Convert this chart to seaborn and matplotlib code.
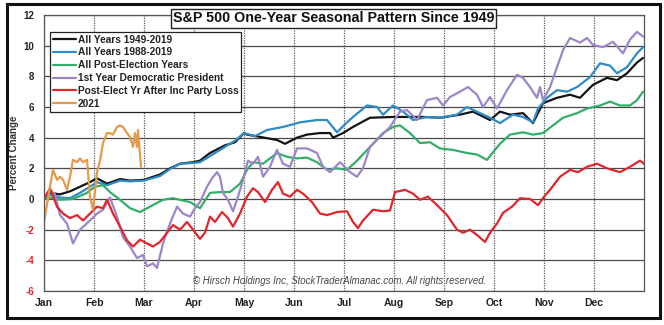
import numpy as np
import pandas as pd
import matplotlib
matplotlib.use("Agg")
import matplotlib.pyplot as plt
import seaborn as sns
from matplotlib.patches import Rectangle

# ---------------- data (x = months since Jan 1, y = percent change) ----------------
month_labels = ["Jan", "Feb", "Mar", "Apr", "May", "Jun",
                "Jul", "Aug", "Sep", "Oct", "Nov", "Dec"]
y_tick_values = [-6, -4, -2, 0, 2, 4, 6, 8, 10, 12]

series_names = ["All Years 1949-2019", "All Years 1988-2019", "All Post-Election Years",
                "1st Year Democratic President", "Post-Elect Yr After Inc Party Loss", "2021"]
series_colors = ["#141414", "#2f8bc6", "#33ad68", "#9c86c8", "#e2252b", "#e39a4c"]

all_1949_x = [0, 0.12, 0.32, 0.52, 0.72, 0.92, 1.06, 1.26, 1.52, 1.72,
              2.0, 2.32, 2.52, 2.72, 2.98, 3.12, 3.32, 3.62, 3.82, 4.0,
              4.06, 4.32, 4.66, 4.82, 5.06, 5.26, 5.52, 5.72, 5.78, 5.98,
              6.18, 6.52, 6.98, 7.26, 7.58, 7.92, 8.32, 8.58, 8.92, 9.12,
              9.32, 9.58, 9.78, 9.98, 10.26, 10.52, 10.72, 10.98, 11.26, 11.46,
              11.66, 11.86, 11.98]
all_1949_y = [0, 0.4, 0.3, 0.5, 0.8, 1.1, 1.35, 1.0, 1.3, 1.2,
              1.25, 1.6, 2.0, 2.3, 2.4, 2.5, 3.0, 3.5, 3.7, 4.3,
              4.2, 4.05, 3.85, 3.6, 4.0, 4.2, 4.3, 4.3, 4.0, 4.3,
              4.7, 5.3, 5.35, 5.35, 5.35, 5.3, 5.5, 5.7, 5.15, 5.7,
              5.5, 5.6, 4.95, 6.25, 6.6, 6.8, 6.6, 7.45, 7.9, 7.75,
              8.2, 8.9, 9.2]

all_1988_x = [0, 0.12, 0.32, 0.52, 0.72, 0.92, 1.06, 1.26, 1.52, 1.72,
              2.0, 2.32, 2.52, 2.72, 2.98, 3.12, 3.32, 3.62, 3.82, 4.0,
              4.22, 4.46, 4.78, 5.12, 5.46, 5.66, 5.86, 6.06, 6.18, 6.46,
              6.66, 6.78, 6.98, 7.18, 7.38, 7.66, 7.92, 8.26, 8.46, 8.72,
              8.92, 9.12, 9.38, 9.58, 9.78, 9.88, 10.06, 10.26, 10.46, 10.66,
              10.92, 11.12, 11.32, 11.46, 11.66, 11.86, 11.98]
all_1988_y = [0, 0.3, 0.1, 0.05, 0.4, 0.8, 1.1, 0.9, 1.2, 1.15,
              1.2, 1.5, 1.95, 2.3, 2.35, 2.4, 2.8, 3.4, 3.8, 4.3,
              4.1, 4.5, 4.7, 5.0, 5.15, 5.15, 4.35, 5.0, 5.35, 6.1,
              6.0, 5.5, 6.1, 5.7, 5.15, 5.35, 5.3, 5.5, 6.0, 5.6,
              5.3, 4.95, 5.5, 5.35, 5.0, 5.9, 6.6, 7.1, 7.0, 7.3,
              7.95, 8.85, 8.7, 8.2, 8.6, 9.5, 9.9]

post_elec_x = [0, 0.12, 0.32, 0.58, 0.86, 1.02, 1.18, 1.32, 1.52, 1.72,
               1.92, 2.12, 2.38, 2.58, 2.78, 2.92, 3.12, 3.32, 3.52, 3.72,
               3.92, 4.06, 4.18, 4.38, 4.66, 4.86, 5.06, 5.26, 5.46, 5.66,
               5.86, 6.06, 6.26, 6.58, 6.78, 6.98, 7.12, 7.32, 7.52, 7.72,
               7.92, 8.18, 8.46, 8.66, 8.86, 8.98, 9.12, 9.32, 9.58, 9.78,
               9.98, 10.18, 10.38, 10.66, 10.86, 11.12, 11.32, 11.52, 11.72, 11.86,
               11.98]
post_elec_y = [0, 0.1, -0.05, 0, 0.4, 0.8, 0.9, 0.45, -0.05, -0.6,
               -0.85, -0.5, -0.05, 0.05, -0.1, -0.2, -0.6, 0.4, 0.45, 0.45,
               1.0, 1.9, 2.4, 2.3, 3.0, 2.75, 2.65, 2.7, 2.4, 1.9,
               2.0, 1.9, 2.5, 3.6, 4.3, 4.7, 4.8, 4.3, 3.65, 3.7,
               3.3, 3.2, 3.0, 2.9, 2.55, 3.05, 3.6, 4.2, 4.35, 4.2,
               4.3, 4.8, 5.3, 5.6, 5.9, 6.1, 6.35, 6.1, 6.1, 6.45,
               7.0]

dem_first_x = [0, 0.12, 0.22, 0.32, 0.46, 0.58, 0.72, 0.92, 1.06, 1.18,
               1.32, 1.46, 1.58, 1.72, 1.86, 1.98, 2.06, 2.18, 2.26, 2.38,
               2.52, 2.66, 2.78, 2.92, 3.02, 3.12, 3.26, 3.36, 3.46, 3.52,
               3.58, 3.68, 3.78, 3.88, 3.98, 4.08, 4.18, 4.28, 4.38, 4.52,
               4.66, 4.78, 4.92, 5.06, 5.26, 5.46, 5.58, 5.72, 5.92, 6.12,
               6.26, 6.38, 6.52, 6.72, 6.92, 7.12, 7.26, 7.46, 7.66, 7.86,
               7.98, 8.12, 8.32, 8.48, 8.66, 8.78, 8.92, 9.06, 9.26, 9.46,
               9.58, 9.72, 9.86, 9.92, 9.98, 10.12, 10.26, 10.38, 10.52, 10.72,
               10.86, 10.98, 11.18, 11.38, 11.58, 11.72, 11.86, 11.98]
dem_first_y = [0, 0.6, 0.3, -1.05, -1.6, -2.9, -2.0, -1.4, -0.95, -0.7,
               0.1, -1.15, -2.5, -3.1, -3.85, -3.65, -4.4, -4.2, -4.5, -2.9,
               -1.6, -0.5, -0.95, -1.15, -0.6, -0.2, 0.8, 1.35, 1.75, 1.45,
               0.4, -0.05, -0.8, 0.15, 1.25, 2.5, 2.3, 2.75, 1.45, 2.1,
               3.2, 2.3, 2.1, 3.3, 3.3, 3.0, 2.1, 1.75, 2.4, 1.75,
               1.45, 2.0, 3.4, 4.05, 4.7, 5.7, 5.8, 5.15, 6.45, 6.6,
               6.1, 6.65, 7.0, 7.3, 6.8, 6.0, 6.65, 5.9, 7.1, 8.1,
               7.9, 7.3, 6.6, 7.3, 6.45, 7.3, 8.6, 9.7, 10.5, 10.2,
               10.5, 10.05, 9.9, 10.25, 9.5, 10.4, 10.9, 10.6]

party_loss_x = [0, 0.12, 0.26, 0.38, 0.52, 0.66, 0.78, 0.92, 1.06, 1.18,
                1.26, 1.38, 1.52, 1.66, 1.78, 1.92, 2.06, 2.18, 2.32, 2.46,
                2.58, 2.72, 2.86, 2.98, 3.12, 3.22, 3.32, 3.42, 3.56, 3.68,
                3.78, 3.92, 4.06, 4.18, 4.28, 4.42, 4.56, 4.68, 4.78, 4.92,
                5.06, 5.18, 5.36, 5.52, 5.66, 5.86, 6.06, 6.18, 6.28, 6.38,
                6.58, 6.78, 6.92, 7.02, 7.22, 7.38, 7.52, 7.68, 7.86, 8.06,
                8.26, 8.38, 8.52, 8.66, 8.82, 8.92, 9.06, 9.18, 9.36, 9.52,
                9.72, 9.88, 10.0, 10.12, 10.32, 10.52, 10.68, 10.86, 11.06, 11.26,
                11.52, 11.72, 11.92, 12.0]
party_loss_y = [0, 0.7, -0.5, -0.95, -1.25, -1.05, -1.4, -0.95, -0.5, -0.6,
                -0.05, -0.95, -1.8, -2.7, -3.1, -2.65, -2.9, -3.1, -2.8, -2.2,
                -1.7, -2.0, -1.5, -2.0, -2.6, -2.2, -1.15, -1.5, -0.85, -1.25,
                -1.8, -0.95, 0.15, 0.7, 0.45, -0.2, 0.6, 1.1, 0.35, 0.15,
                0.6, 0.35, -0.2, -0.95, -1.05, -0.85, -0.8, -1.5, -1.9, -1.4,
                -0.7, -0.8, -0.75, 0.45, 0.6, 0.35, -0.05, 0.15, -0.4, -1.05,
                -2.0, -2.2, -2.0, -2.35, -2.8, -2.2, -1.6, -0.9, -0.5, 0.05,
                0.0, -0.4, 0.15, 0.6, 1.45, 1.9, 1.75, 2.1, 2.3, 2.0,
                1.75, 2.1, 2.5, 2.3]

y2021_x = [0, 0.12, 0.18, 0.26, 0.32, 0.38, 0.46, 0.52, 0.58, 0.66,
           0.72, 0.78, 0.86, 0.92, 0.98, 1.06, 1.12, 1.18, 1.26, 1.32,
           1.38, 1.46, 1.52, 1.58, 1.66, 1.72, 1.78, 1.82, 1.86, 1.88,
           1.94]
y2021_y = [-1.5, 0.8, 1.9, 1.25, 1.45, 1.25, 0.6, 1.45, 2.55, 2.4,
           2.65, 2.4, 2.55, 0.15, -0.7, 1.75, 2.5, 3.65, 4.3, 4.3,
           4.2, 4.7, 4.8, 4.7, 4.3, 4.05, 3.4, 4.3, 3.4, 4.5,
           2.1]

series_x = [all_1949_x, all_1988_x, post_elec_x, dem_first_x, party_loss_x, y2021_x]
series_y = [all_1949_y, all_1988_y, post_elec_y, dem_first_y, party_loss_y, y2021_y]

frames = []
for name, xs, ys in zip(series_names, series_x, series_y):
    frames.append(pd.DataFrame({"month": xs, "pct": ys, "series": name}))
df = pd.concat(frames, ignore_index=True)

# ---------------- style ----------------
sns.set_style("white")
plt.rcParams["font.family"] = ["Liberation Sans", "DejaVu Sans"]

W, H = 664, 325
fig = plt.figure(figsize=(W / 100, H / 100), dpi=100)
ax = fig.add_axes([44 / W, 34 / H, 600 / W, 276 / H])

sns.lineplot(data=df, x="month", y="pct", hue="series", hue_order=series_names,
             palette=series_colors, sort=False, estimator=None, linewidth=1.6,
             legend=False, ax=ax)

ax.set_xlim(0, 12)
ax.set_ylim(-6, 12)
ax.set_axisbelow(True)

# grid
ax.set_yticks(y_tick_values)
ax.set_xticks(range(12))
ax.yaxis.grid(True, color="#4a4a4a", linewidth=0.9, linestyle="-")
ax.xaxis.grid(True, color="#5a5a5a", linewidth=0.9, linestyle=(0, (1, 1)))

for side, sp in ax.spines.items():
    sp.set_color("#555555")
    sp.set_linewidth(0.9)
ax.spines["right"].set_linestyle((0, (1, 1)))

# tick labels
ax.set_xticklabels(month_labels, fontsize=7.5, fontweight="bold", color="#222222")
ax.tick_params(axis="x", length=0, pad=5)
ax.set_yticklabels([str(v) for v in y_tick_values], fontsize=7, fontweight="bold")
ax.tick_params(axis="y", length=5, width=0.9, color="#555555", pad=2, direction="out")
for lab, v in zip(ax.get_yticklabels(), y_tick_values):
    lab.set_color("#e2252b" if v < 0 else "#222222")

ax.set_xlabel("")
ax.set_ylabel("Percent Change", fontsize=7, fontweight="bold", color="#333333")
ax.yaxis.set_label_coords(-0.042, 0.5)

# legend
handles = ax.get_lines()[:len(series_names)]
leg = ax.legend(handles, series_names, loc="upper left", bbox_to_anchor=(0.01, 0.94),
                prop={"weight": "bold", "size": 7.3},
                frameon=True, fancybox=False, framealpha=1, edgecolor="#222222",
                handlelength=2.3, handletextpad=0.12, labelspacing=0.28,
                borderpad=0.3, borderaxespad=0)
leg.get_frame().set_linewidth(0.9)
for t in leg.get_texts():
    t.set_color("#222222")

# copyright
ax.text(0.492, 0.036, "\u00a9 Hirsch Holdings Inc, StockTraderAlmanac.com. All rights reserved.",
        transform=ax.transAxes, ha="center", va="center", fontsize=6.9,
        style="italic", color="#444444")

# title box
fig.text(333.5 / W, 1 - 18.5 / H, "S&P 500 One-Year Seasonal Pattern Since 1949",
         ha="center", va="center", fontsize=10.3, fontweight="bold", color="#111111",
         bbox=dict(boxstyle="square,pad=0.15", facecolor="white", edgecolor="#222222",
                   linewidth=1.0), zorder=10)

# outer frame
fig.patches.append(Rectangle((7 / W, 7 / H), 653 / W, 314 / H, transform=fig.transFigure,
                             fill=False, edgecolor="#111111", linewidth=2.2))

fig.savefig("out.png", dpi=100, facecolor="white")
